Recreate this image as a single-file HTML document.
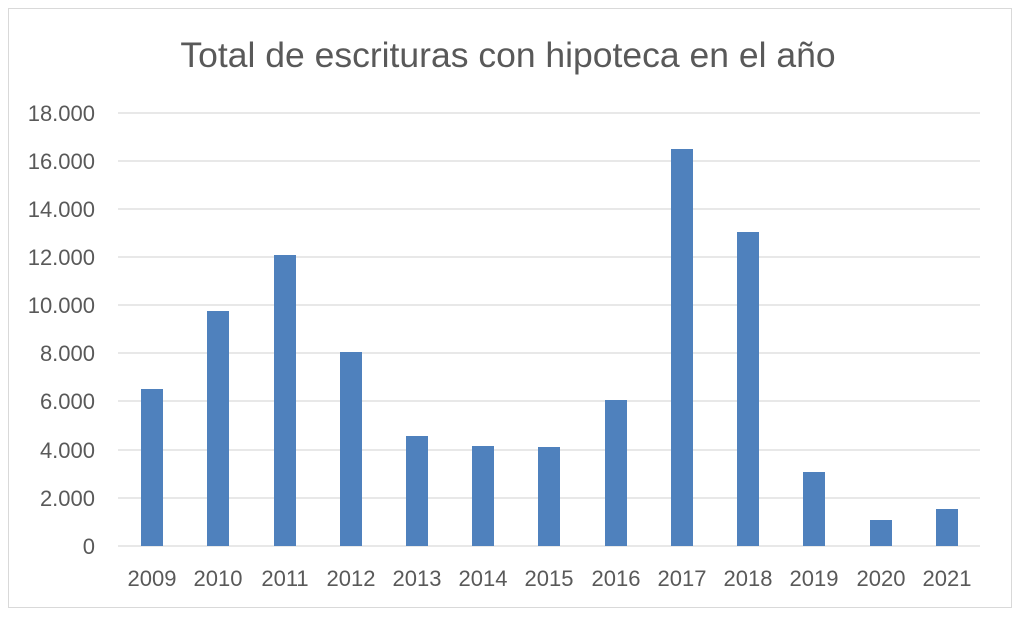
<!DOCTYPE html>
<html><head><meta charset="utf-8"><style>
html,body{margin:0;padding:0;background:#fff;}
</style></head><body>
<svg width="1024" height="617" xmlns="http://www.w3.org/2000/svg" font-family="Liberation Sans, sans-serif">
<rect x="0" y="0" width="1024" height="617" fill="#fff"/>
<rect x="8.5" y="8.5" width="1003" height="599" fill="none" stroke="#d9d9d9" stroke-width="1"/>
<text x="508" y="67" text-anchor="middle" font-size="35.5" fill="#595959">Total de escrituras con hipoteca en el año</text>
<g stroke="#d9d9d9" stroke-width="1.3">
<line x1="118" x2="980" y1="113" y2="113"/>
<line x1="118" x2="980" y1="161" y2="161"/>
<line x1="118" x2="980" y1="209" y2="209"/>
<line x1="118" x2="980" y1="257" y2="257"/>
<line x1="118" x2="980" y1="305" y2="305"/>
<line x1="118" x2="980" y1="353" y2="353"/>
<line x1="118" x2="980" y1="401" y2="401"/>
<line x1="118" x2="980" y1="450" y2="450"/>
<line x1="118" x2="980" y1="498" y2="498"/>
<line x1="118" x2="980" y1="546" y2="546"/>
</g>
<g font-size="22" fill="#595959" text-anchor="end">
<text x="95" y="121">18.000</text>
<text x="95" y="169">16.000</text>
<text x="95" y="217">14.000</text>
<text x="95" y="265">12.000</text>
<text x="95" y="313">10.000</text>
<text x="95" y="361">8.000</text>
<text x="95" y="409">6.000</text>
<text x="95" y="458">4.000</text>
<text x="95" y="506">2.000</text>
<text x="95" y="554">0</text>
</g>
<g fill="#4f81bd">
<rect x="141" y="389" width="22" height="157"/>
<rect x="207" y="311" width="22" height="235"/>
<rect x="274" y="255" width="22" height="291"/>
<rect x="340" y="352" width="22" height="194"/>
<rect x="406" y="436" width="22" height="110"/>
<rect x="472" y="446" width="22" height="100"/>
<rect x="538" y="447" width="22" height="99"/>
<rect x="605" y="400" width="22" height="146"/>
<rect x="671" y="149" width="22" height="397"/>
<rect x="737" y="232" width="22" height="314"/>
<rect x="803" y="472" width="22" height="74"/>
<rect x="870" y="520" width="22" height="26"/>
<rect x="936" y="509" width="22" height="37"/>
</g>
<g font-size="22" fill="#595959" text-anchor="middle">
<text x="152" y="586">2009</text>
<text x="218" y="586">2010</text>
<text x="285" y="586">2011</text>
<text x="351" y="586">2012</text>
<text x="417" y="586">2013</text>
<text x="483" y="586">2014</text>
<text x="549" y="586">2015</text>
<text x="616" y="586">2016</text>
<text x="682" y="586">2017</text>
<text x="748" y="586">2018</text>
<text x="814" y="586">2019</text>
<text x="881" y="586">2020</text>
<text x="947" y="586">2021</text>
</g>
</svg>
</body></html>
